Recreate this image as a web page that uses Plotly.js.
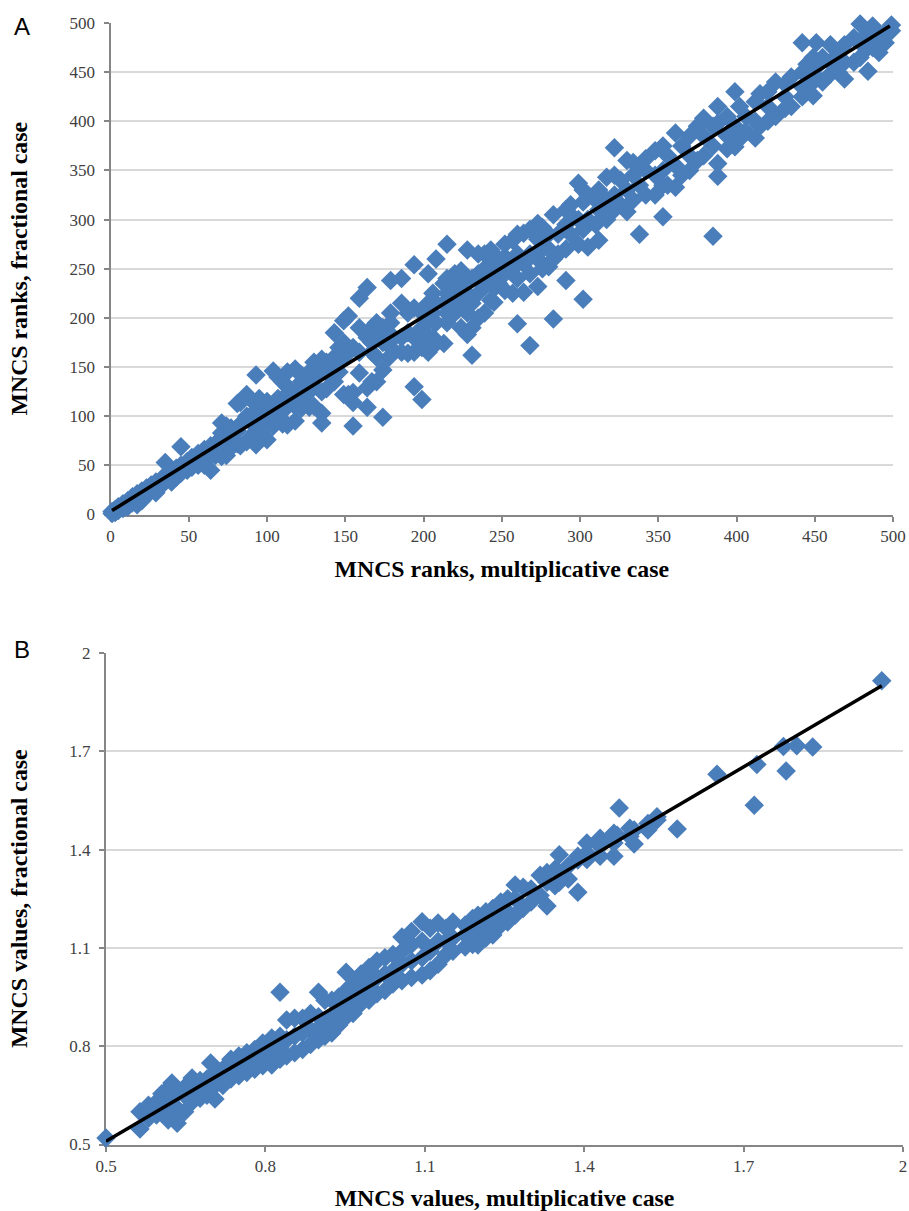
<!DOCTYPE html>
<html><head><meta charset="utf-8">
<script src="https://cdn.plot.ly/plotly-3.0.1.min.js"></script>
<style>html,body{margin:0;padding:0;background:#fff}</style>
</head><body><div id="chart" style="width:909px;height:1211px"></div>
<script>
// Panel A: multiplicative rank -> list of fractional ranks read at that column
const rankColumns = [1,3,5,8,11,14,17,20,23,26,29,33,35,39,42,45,49,52,56,60,64,67,71,74,77,81,83,87,89,93,95,98,100,104,107,110,113,118,122,127,130,135,138,143,146,149,152,155,159,164,167,170,174,178,179,186,190,194,199,203,206,208,213,215,220,224,228,231,235,239,243,245,248,252,257,260,264,268,273,276,280,283,286,291,294,299,302,305,310,312,317,322,326,330,334,338,342,348,353,356,361,365,370,375,379,385,388,394,399,402,406,412,415,420,425,431,435,442,445,449,451,455,460,465,469,475,479,484,487,491,495,499];
const rankRows = [[1,3],[2,5],[4,8],[6,11],[8,14],[18,12],[10,15,21],[14,24],[20,27],[24,30],[25,33,22],[30,37],[53,34,38],[33,42],[38,47],[69,42,50],[45,54],[48,58],[50,62],[50,66,56],[45,70,60],[60,72],[59,83,93],[60,75,90],[68,88,80],[72,85,113],[70,92,114],[74,100,122],[78,95,118],[71,142,106,85],[85,105,118],[92,110,80],[76,100,115],[90,146,108],[100,118,140],[92,105,118,135],[91,130,145,115],[95,125,148,110],[108,135,118,142],[109,145,125],[130,155,110,140],[93,103,125,150,158],[128,145,155],[135,185,160,150],[145,170,155],[160,197,175,122],[122,202,165],[90,114,124,170],[220,144,190,165],[109,231,180,129],[135,165,190,175],[135,185,195,160],[99,147,175,190],[160,185,175],[238,170,195,205],[165,215,240,180],[164,205,185],[130,254,165,210,180],[117,170,205,190,178],[245,165,215,195,180],[180,225,205],[260,174,215,195],[174,215,235],[195,225,275,205,240],[205,230,245,215],[190,248,215,235],[183,269,225,205],[162,190,240,215],[200,245,265,225],[205,265,250,232],[218,269,240,255],[216,230],[235,260,250],[228,275,245,262],[225,279,250],[194,240,285,265],[226,255,286],[172,245,290,265],[232,296,260,280],[250,292,270],[252,285,270],[199,305,260],[265,285],[238,270,295,310],[285,315,305],[275,337,300],[219,290,330,318],[272,300,325],[295,320],[279,310,330],[300,343,320],[373,310,345,325],[315,340],[308,360,330],[320,345,358],[285,335,355],[325,350,362],[325,370,345],[303,375,350,335],[335,365],[333,388,355],[345,375],[350,385,365],[360,395],[365,403,385],[283,375,395],[344,357,415,398],[372,385,405],[374,430,395],[382,415],[390,405],[383,420,400],[395,428],[400,430,415],[405,440],[413,438,425],[415,445],[425,480,450,435],[430,458],[426,465,440],[480,455,445],[440,465],[448,478,460],[450,470],[443,478,460],[460,485],[499,465,480],[451,475,490],[497,475,485],[470,488],[480,490],[498,492]];
const rankFitX = [1,498];
const rankFitY = [4,497];
const rankTicks = [0,50,100,150,200,250,300,350,400,450,500];

// Panel B: multiplicative value -> list of fractional values read at that column
const valueColumns = [0.5,0.564,0.58,0.595,0.605,0.617,0.624,0.634,0.648,0.662,0.677,0.69,0.697,0.705,0.72,0.735,0.75,0.765,0.78,0.795,0.812,0.8275,0.84,0.855,0.87,0.885,0.9,0.912,0.925,0.938,0.952,0.965,0.98,0.995,1.01,1.025,1.04,1.057,1.075,1.095,1.11,1.125,1.14,1.153,1.176,1.19,1.2,1.215,1.228,1.243,1.256,1.27,1.285,1.3,1.317,1.33,1.345,1.353,1.37,1.388,1.405,1.43,1.456,1.462,1.466,1.486,1.494,1.52,1.537,1.575,1.65,1.72,1.725,1.775,1.78,1.8,1.83,1.96];
const valueRows = [[0.52],[0.547,0.6],[0.58,0.62,0.6],[0.59,0.63,0.61],[0.6,0.655,0.625],[0.575,0.67,0.62],[0.585,0.688,0.64],[0.565,0.67,0.61],[0.6,0.65,0.675],[0.63,0.703,0.665],[0.641,0.695,0.67],[0.65,0.7],[0.749,0.67],[0.639,0.72,0.68],[0.68,0.73,0.7],[0.7,0.76,0.73],[0.71,0.77,0.74],[0.72,0.78,0.75],[0.73,0.79,0.76],[0.74,0.81,0.77],[0.743,0.825,0.78],[0.965,0.76,0.83,0.795],[0.77,0.88,0.82],[0.78,0.885,0.83],[0.79,0.885,0.84],[0.805,0.9,0.85],[0.82,0.965,0.89,0.855],[0.83,0.94,0.87],[0.84,0.94,0.89],[0.865,0.95,0.91],[0.89,1.026,0.93,0.97],[0.9,0.99,0.95],[0.93,1.02,0.97],[0.94,1.04,0.99],[0.96,1.06,1.01],[0.97,1.07,1.02],[0.99,1.08,1.03],[1.0,1.133,1.05,1.09],[1.01,1.15,1.06,1.11],[1.017,1.18,1.07,1.12],[1.03,1.16,1.09],[1.05,1.176,1.12],[1.08,1.16,1.12],[1.09,1.179,1.13],[1.103,1.17,1.14],[1.11,1.19,1.15],[1.109,1.2,1.16],[1.13,1.21,1.17],[1.139,1.22,1.18],[1.17,1.24,1.2],[1.179,1.25,1.21],[1.2,1.292,1.25],[1.22,1.285],[1.24,1.28],[1.26,1.322],[1.228,1.3,1.33],[1.29,1.34],[1.384,1.33,1.3],[1.31,1.35],[1.27,1.368,1.38],[1.37,1.42,1.39],[1.38,1.435,1.41],[1.38,1.45,1.42],[1.444],[1.527],[1.465,1.44],[1.417,1.46],[1.48,1.46],[1.5,1.49],[1.463],[1.63],[1.535],[1.66],[1.715],[1.64],[1.717],[1.713],[1.915]];
const valueFitX = [0.5,1.96];
const valueFitY = [0.51,1.9];
const valueTicks = [0.5,0.8,1.1,1.4,1.7,2];
const valueTickText = ["0.5","0.8","1.1","1.4","1.7","2"];

const panelLetters = ["A","B"];
const titleXA = "MNCS ranks, multiplicative case";
const titleYA = "MNCS ranks, fractional case";
const titleXB = "MNCS values, multiplicative case";
const titleYB = "MNCS values, fractional case";

const W = 909, H = 1211;
const expandX = (cols, rows) => cols.flatMap((c, i) => rows[i].map(() => c));
const expandY = rows => rows.flat();
const blue = "#4a7ebb";
const scatter = (x, y, xa, ya) => ({x, y, xaxis: xa, yaxis: ya, type: "scatter", mode: "markers", cliponaxis: false, hoverinfo: "skip",
  marker: {symbol: "diamond", size: 15, color: blue, line: {width: 0}}});
const fit = (x, y, xa, ya) => ({x, y, xaxis: xa, yaxis: ya, type: "scatter", mode: "lines", cliponaxis: false, hoverinfo: "skip",
  line: {color: "#000000", width: 3.5}});
const tickFont = {family: "Liberation Serif, serif", size: 17, color: "#404040"};
const titleFont = {family: "Liberation Serif, serif", size: 23.8, color: "#000000", weight: "bold"};
const common = {showgrid: false, zeroline: false, showline: true, linecolor: "#868686", linewidth: 2, ticks: "outside", ticklen: 5, tickcolor: "#868686", tickwidth: 2, tickfont: tickFont, layer: "below traces", automargin: false};
const yCommon = Object.assign({}, common, {showgrid: true, gridcolor: "#d9d9d9", gridwidth: 2, ticklabelstandoff: 5});

const layout = {
  width: W, height: H, margin: {l: 0, r: 0, t: 0, b: 0}, showlegend: false,
  paper_bgcolor: "#fff", plot_bgcolor: "#fff",
  xaxis: Object.assign({}, common, {domain: [110.5 / W, 893 / W], range: [0, 500], anchor: "y", tickmode: "array", tickvals: rankTicks, ticktext: rankTicks.map(String), title: {text: titleXA, font: titleFont, standoff: 15}}),
  yaxis: Object.assign({}, yCommon, {domain: [1 - 514.5 / H, 1 - 23 / H], range: [0, 500], anchor: "x", tickmode: "array", tickvals: rankTicks, ticktext: rankTicks.map(String), title: {text: titleYA, font: titleFont, standoff: 35}}),
  xaxis2: Object.assign({}, common, {domain: [106 / W, 903 / W], range: [0.5, 2], anchor: "y2", tickmode: "array", tickvals: valueTicks, ticktext: valueTickText, title: {text: titleXB, font: titleFont, standoff: 15}}),
  yaxis2: Object.assign({}, yCommon, {domain: [1 - 1144.5 / H, 1 - 653 / H], range: [0.5, 2], anchor: "x2", tickmode: "array", tickvals: valueTicks, ticktext: valueTickText, title: {text: titleYB, font: titleFont, standoff: 35}}),
  annotations: [
    {text: panelLetters[0], xref: "paper", yref: "paper", x: 12 / W, y: 1 - 27 / H, xanchor: "left", yanchor: "middle", showarrow: false, font: {family: "Liberation Sans, sans-serif", size: 24, color: "#000"}},
    {text: panelLetters[1], xref: "paper", yref: "paper", x: 12 / W, y: 1 - 649 / H, xanchor: "left", yanchor: "middle", showarrow: false, font: {family: "Liberation Sans, sans-serif", size: 24, color: "#000"}}
  ]
};
Plotly.newPlot("chart", [
  scatter(expandX(rankColumns, rankRows), expandY(rankRows), "x", "y"),
  fit(rankFitX, rankFitY, "x", "y"),
  scatter(expandX(valueColumns, valueRows), expandY(valueRows), "x2", "y2"),
  fit(valueFitX, valueFitY, "x2", "y2")
], layout, {staticPlot: true, displayModeBar: false});
</script></body></html>
